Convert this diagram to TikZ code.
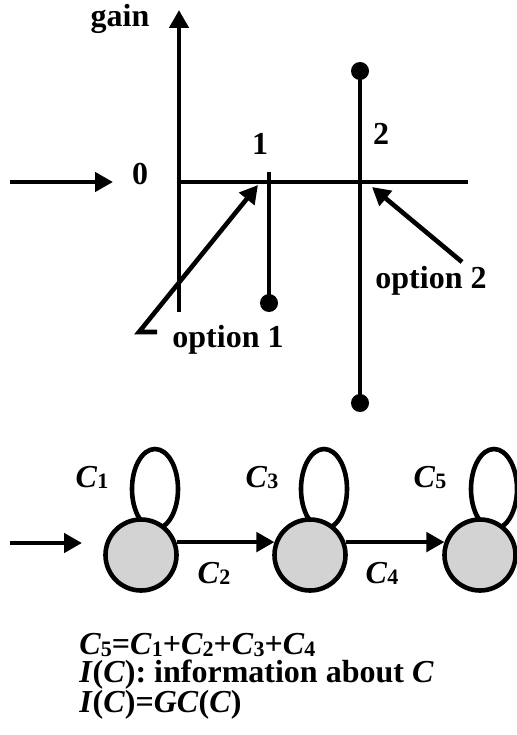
\documentclass[tikz,border=0pt]{standalone}
\usepackage{fontspec}
\setmainfont{Liberation Serif}
\usepackage{tikz}
\usetikzlibrary{arrows.meta}
\definecolor{stategray}{RGB}{211,211,211}
\newcommand{\Cidx}[1]{\textit{C}\raisebox{-0.06em}{\fontsize{22}{24}\selectfont #1}}

\begin{document}
\begin{tikzpicture}[x=1pt, y=-1pt, line width=4.6pt,
    >={Triangle[length=18pt, width=19pt]},
    lbl/.style={font=\fontsize{32}{38}\selectfont\bfseries, inner sep=0pt, anchor=base},
    state/.style={circle, draw, fill=stategray, minimum size=71pt, inner sep=0pt}]
  \useasboundingbox (0,0) rectangle (516,735);
  % gain axis with the two options
  \coordinate (g0) at (179,312);
  \coordinate (g1) at (179,10);
  \coordinate (h0) at (180,182);
  \coordinate (h1) at (468,182);
  \coordinate (in0) at (10,182);
  \coordinate (in1) at (113,182);
  \coordinate (o1top) at (269,172);
  \coordinate (o1bot) at (269,303);
  \coordinate (o2top) at (360,71);
  \coordinate (o2bot) at (360,403);
  \coordinate (a1tail) at (157,332);
  \coordinate (a1bend) at (139,332);
  \coordinate (a1tip) at (258,185);
  \coordinate (a2tail) at (462,262);
  \coordinate (a2tip) at (372,187);
  \draw[->] (g0) -- (g1);
  \draw (h0) -- (h1);
  \draw[->] (in0) -- (in1);
  \draw (o1top) -- (o1bot);
  \draw (o2top) -- (o2bot);
  \fill (o1bot) circle[radius=9pt] (o2top) circle[radius=9pt] (o2bot) circle[radius=9pt];
  \draw[->] (a1tail) -- (a1bend) -- (a1tip);
  \draw[->] (a2tail) -- (a2tip);
  \node[lbl] (gain) at (120,27) {gain};
  \node[lbl] (zero) at (140,185) {0};
  \node[lbl] (one) at (260,155) {1};
  \node[lbl] (two) at (381,145) {2};
  \node[lbl] (opt1) at (228,347) {option 1};
  \node[lbl] (opt2) at (431,288) {option 2};

  % chain of states
  \coordinate (p1) at (141,555);
  \coordinate (p2) at (310,555);
  \coordinate (p3) at (480,555);
  \foreach \p in {p1,p2,p3}
    \draw ([shift={(14,-66)}]\p) ellipse[x radius=23pt, y radius=40pt];
  \foreach \i in {1,2,3}
    \node[state] (s\i) at (p\i) {};
  \coordinate (start) at (10,543);
  \coordinate (into) at (82,543);
  \draw[->] (start) -- (into);
  \draw[->] (s1.20) -- (s2.160);
  \draw[->] (s2.20) -- (s3.160);
  \node[lbl] (c1) at (92,487) {\Cidx{1}};
  \node[lbl] (c3) at (262,487) {\Cidx{3}};
  \node[lbl] (c5) at (430,487) {\Cidx{5}};
  \node[lbl] (c2) at (214,583) {\Cidx{2}};
  \node[lbl] (c4) at (382,583) {\Cidx{4}};

  \node[lbl, font=\fontsize{32}{28}\selectfont\bfseries, anchor=north west, align=left] (notes) at (77,631)
    {\Cidx{5}=\Cidx{1}+\Cidx{2}+\Cidx{3}+\Cidx{4}\\
     \textit{I}(\textit{C}): information about \textit{C}\\
     \textit{I}(\textit{C})=\textit{GC}(\textit{C})};
\end{tikzpicture}
\end{document}
